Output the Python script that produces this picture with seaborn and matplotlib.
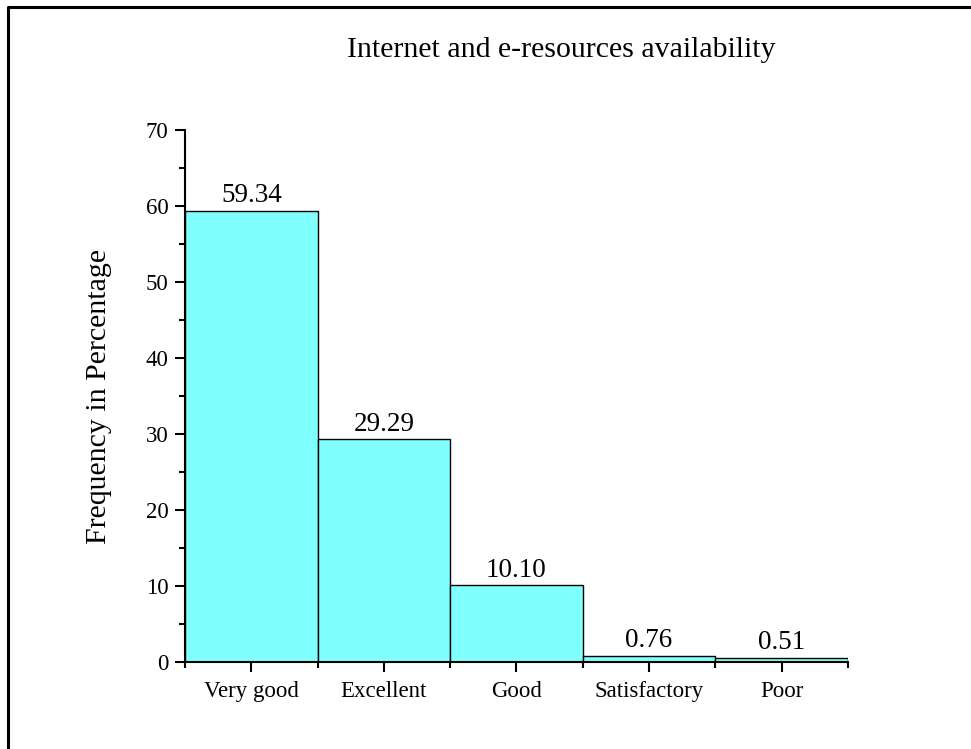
import matplotlib
matplotlib.use("Agg")
import matplotlib.pyplot as plt
import seaborn as sns
from matplotlib.lines import Line2D
from matplotlib.ticker import MultipleLocator, FixedLocator

# Data
categories = ["Very good", "Excellent", "Good", "Satisfactory", "Poor"]
percentages = [59.34, 29.29, 10.10, 0.76, 0.51]
value_labels = ["59.34", "29.29", "10.10", "0.76", "0.51"]

sns.set_style("ticks", {"text.color": "black", "axes.labelcolor": "black",
                        "xtick.color": "black", "ytick.color": "black",
                        "axes.edgecolor": "black"})
plt.rcParams["font.family"] = ["Liberation Serif", "DejaVu Serif"]

fig = plt.figure(figsize=(9.71, 7.49), dpi=100)
ax = fig.add_axes([0.1905, 0.1161, 0.6828, 0.7103])

sns.barplot(x=categories, y=percentages, color="#80FFFF", saturation=1,
            width=1, edgecolor="black", linewidth=1, ax=ax)

for i, (v, lab) in enumerate(zip(percentages, value_labels)):
    ax.annotate(lab, (i, v), xytext=(0, 2), textcoords="offset points",
                ha="center", va="bottom", fontsize=19.5, color="black")

ax.set_xlim(-0.5, 4.5)
ax.set_ylim(0, 70)
ax.yaxis.set_major_locator(MultipleLocator(10))
ax.yaxis.set_minor_locator(MultipleLocator(5))
ax.xaxis.set_minor_locator(FixedLocator([-0.5, 0.5, 1.5, 2.5, 3.5, 4.5]))
ax.tick_params(axis="both", which="major", length=7, width=1.5, labelsize=16.5)
ax.tick_params(axis="both", which="minor", length=4, width=1.5)
ax.tick_params(axis="x", which="major", pad=7)
ax.tick_params(axis="y", which="major", pad=5)

for s in ["left", "bottom"]:
    ax.spines[s].set_linewidth(1.5)
sns.despine(ax=ax)

ax.set_xlabel("")
ax.set_ylabel("Frequency in Percentage", fontsize=21.5, labelpad=24)

fig.text(0.578, 0.933, "Internet and e-resources availability",
         ha="center", va="center", fontsize=21.5)

# partial frame around the figure (left and top edges)
fig.add_artist(Line2D([8 / 971, 8 / 971, 1], [0, 1 - 7 / 749, 1 - 7 / 749],
                      color="black", linewidth=2.2, transform=fig.transFigure))

fig.savefig("out.png", dpi=100)
